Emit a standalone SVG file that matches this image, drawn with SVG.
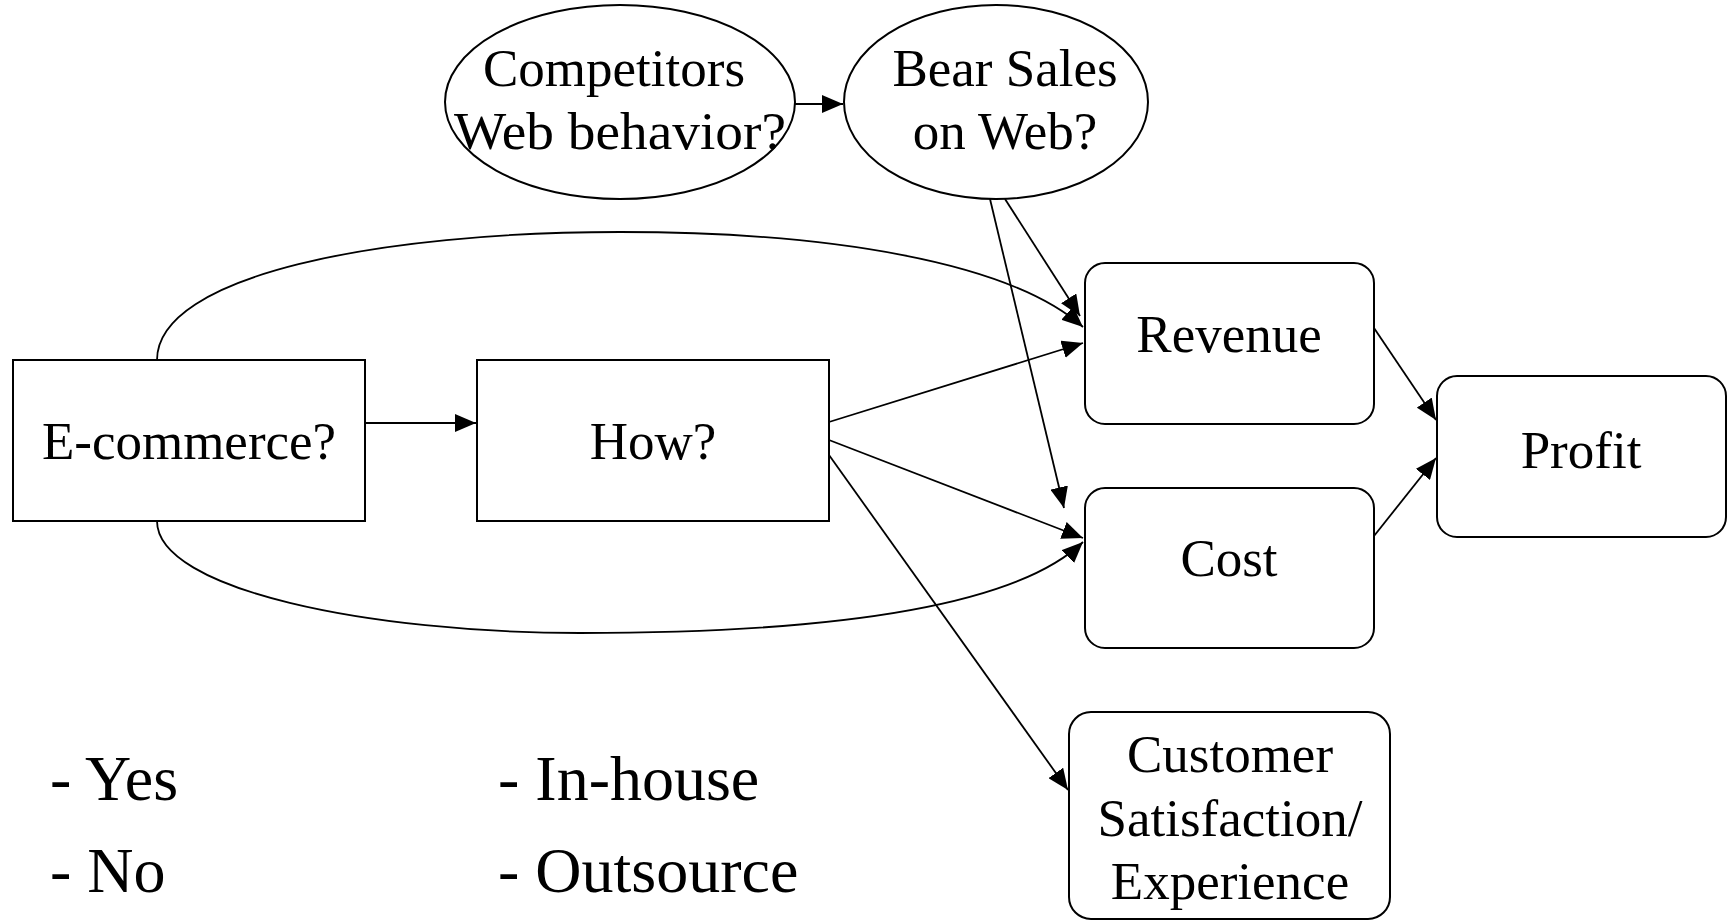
<svg xmlns="http://www.w3.org/2000/svg" width="1735" height="921" viewBox="0 0 1735 921">
  <defs>
    <marker id="arrow" markerUnits="userSpaceOnUse" markerWidth="22" markerHeight="18" refX="21" refY="9" orient="auto">
      <path d="M0,0 L21,9 L0,18 z" fill="#000"/>
    </marker>
    <style>
      .shape { fill: #fff; stroke: #000; stroke-width: 2; }
      .label { font-family: "Liberation Serif", "Times New Roman", serif; font-size: 53px; fill: #000; text-anchor: middle; }
      .note { font-family: "Liberation Serif", "Times New Roman", serif; font-size: 64px; fill: #000; }
      .conn { fill: none; stroke: #000; stroke-width: 1.8; marker-end: url(#arrow); }
    </style>
  </defs>
  <rect width="1735" height="921" fill="#fff"/>

  <!-- connectors -->
  <g id="connectors">
    <path class="conn" d="M157,360 C157,275 380,232 620,232 C830,232 1010,262 1083,327"/>
    <path class="conn" d="M157,521 C157,590 370,633 580,633 C810,633 1010,612 1083,542"/>
    <line class="conn" x1="794" y1="104" x2="843" y2="104"/>
    <line class="conn" x1="365" y1="423" x2="476" y2="423"/>
    <line class="conn" x1="829" y1="422" x2="1083" y2="343"/>
    <line class="conn" x1="829" y1="440" x2="1083" y2="538"/>
    <line class="conn" x1="829" y1="455" x2="1068" y2="790"/>
    <line class="conn" x1="1005" y1="199" x2="1080" y2="316"/>
    <line class="conn" x1="990" y1="199" x2="1064" y2="508"/>
    <line class="conn" x1="1374" y1="328" x2="1436" y2="420"/>
    <line class="conn" x1="1374" y1="536" x2="1436" y2="458"/>
  </g>

  <g id="competitors">
    <ellipse class="shape" cx="620" cy="102" rx="175" ry="97"/>
    <text class="label" x="614" y="86">Competitors</text>
    <text class="label" x="620" y="149" textLength="332" lengthAdjust="spacingAndGlyphs">Web behavior?</text>
  </g>

  <g id="bear-sales">
    <ellipse class="shape" cx="996" cy="102" rx="152" ry="97"/>
    <text class="label" x="1005" y="86">Bear Sales</text>
    <text class="label" x="1005" y="149">on Web?</text>
  </g>

  <g id="ecommerce">
    <rect class="shape" x="13" y="360" width="352" height="161"/>
    <text class="label" x="189" y="459">E-commerce?</text>
  </g>

  <g id="how">
    <rect class="shape" x="477" y="360" width="352" height="161"/>
    <text class="label" x="653" y="459">How?</text>
  </g>

  <g id="revenue">
    <rect class="shape" x="1085" y="263" width="289" height="161" rx="20" ry="20"/>
    <text class="label" x="1229" y="352">Revenue</text>
  </g>

  <g id="cost">
    <rect class="shape" x="1085" y="488" width="289" height="160" rx="20" ry="20"/>
    <text class="label" x="1229" y="576">Cost</text>
  </g>

  <g id="profit">
    <rect class="shape" x="1437" y="376" width="289" height="161" rx="20" ry="20"/>
    <text class="label" x="1581" y="468">Profit</text>
  </g>

  <g id="customer">
    <rect class="shape" x="1069" y="712" width="321" height="207" rx="22" ry="22"/>
    <text class="label" x="1230" y="772">Customer</text>
    <text class="label" x="1230" y="836">Satisfaction/</text>
    <text class="label" x="1230" y="899">Experience</text>
  </g>

  <g id="options">
    <text class="note" x="50" y="800">- Yes</text>
    <text class="note" x="50" y="892">- No</text>
    <text class="note" x="498" y="800">- In-house</text>
    <text class="note" x="498" y="892">- Outsource</text>
  </g>
</svg>
